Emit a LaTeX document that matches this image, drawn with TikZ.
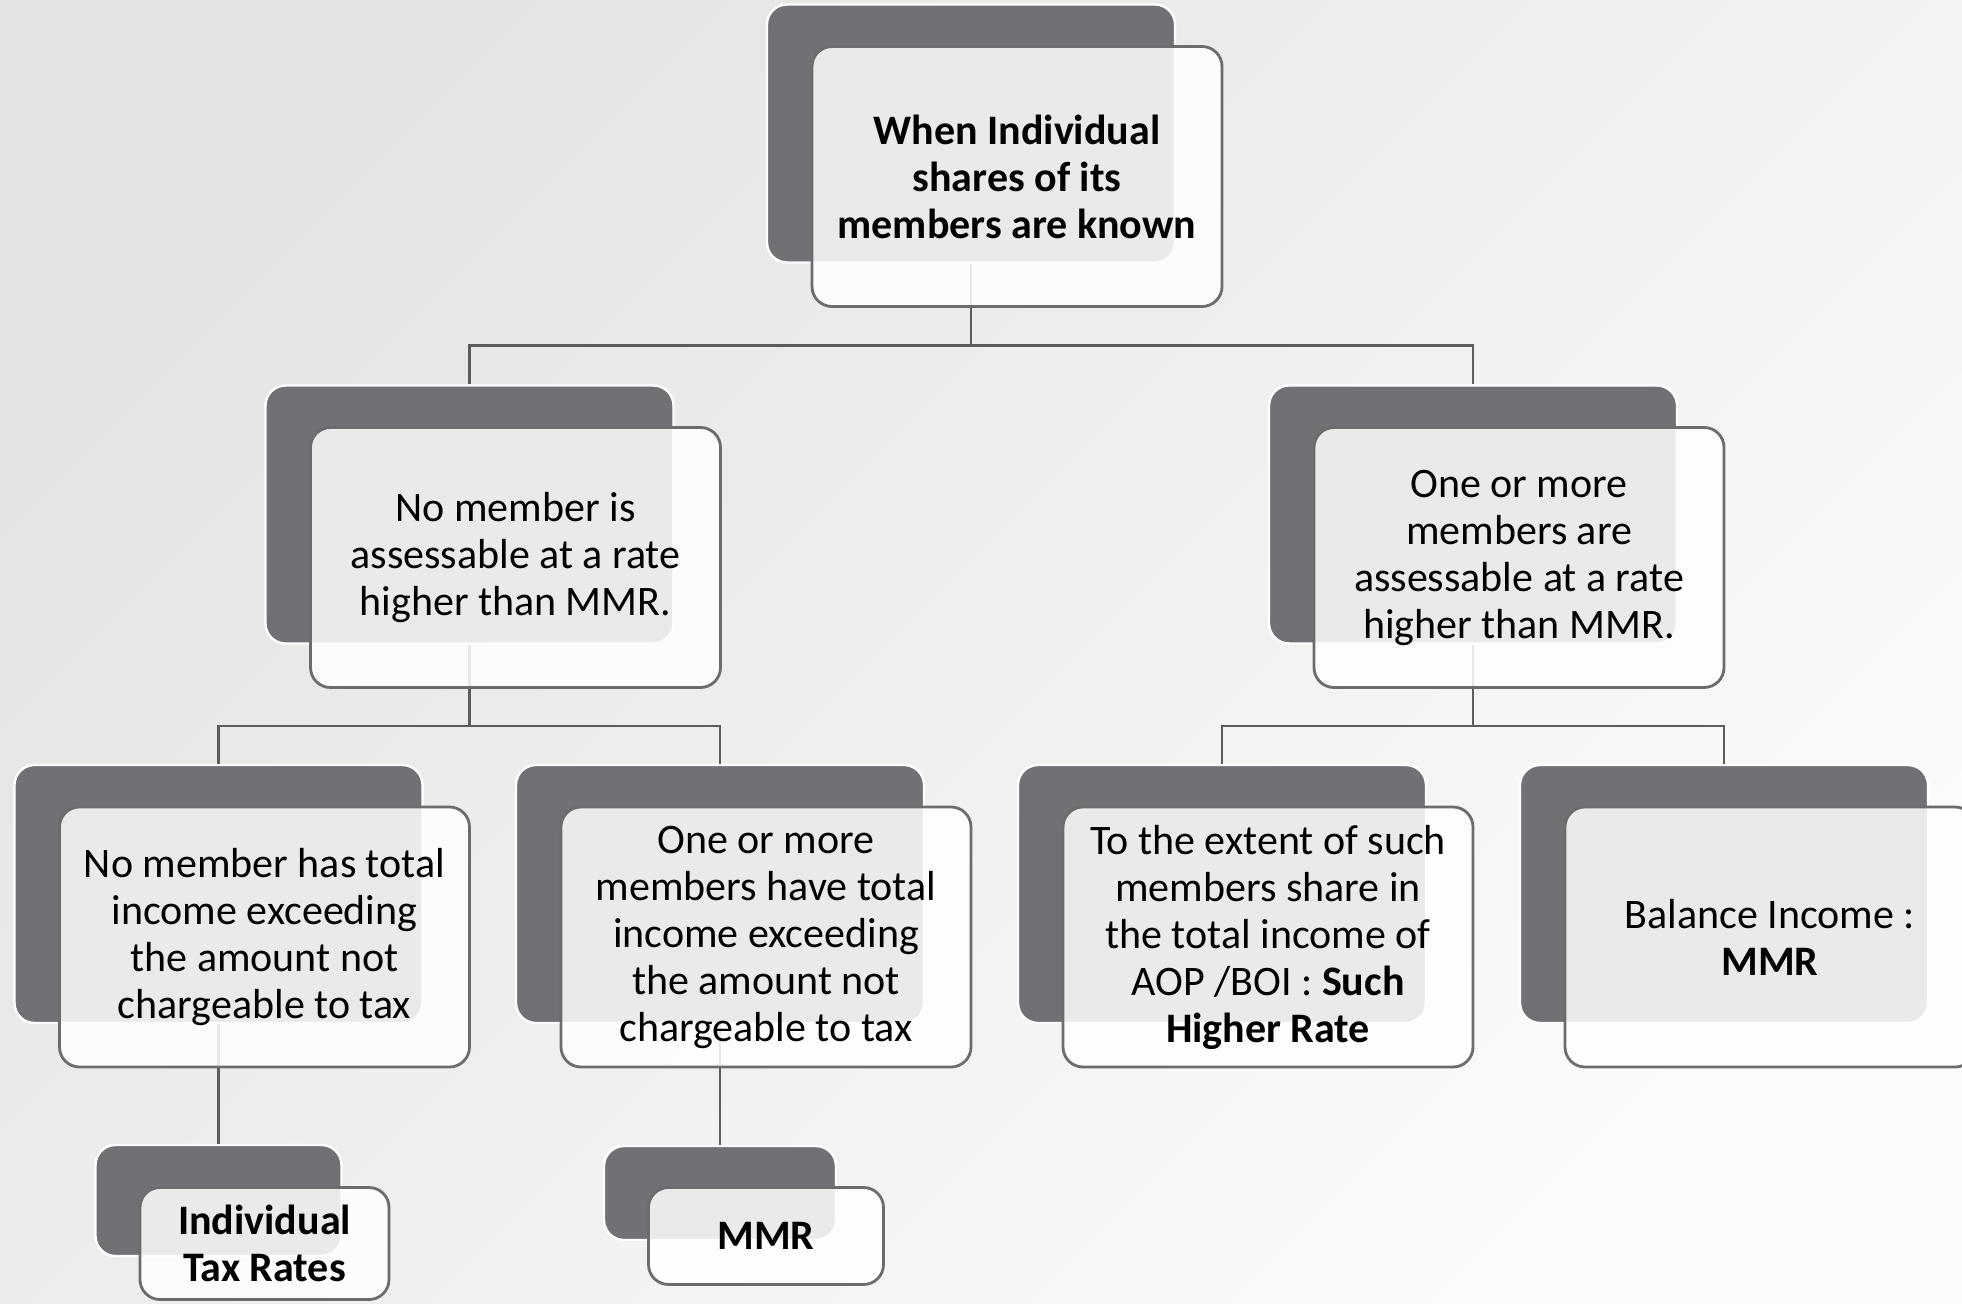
\documentclass[tikz,border=0pt]{standalone}
\usepackage{fontspec}
\setmainfont{Carlito}
\definecolor{backbox}{RGB}{113,112,117}
\definecolor{edgegray}{RGB}{108,108,108}
\definecolor{linkgray}{RGB}{92,92,92}
\definecolor{bgtop}{RGB}{228,228,228}
\definecolor{bgbot}{RGB}{251,251,251}
\begin{document}
\begin{tikzpicture}[x=0.5pt,y=-0.5pt,
  back/.style={draw=white,line width=1.2pt,fill=backbox,rounded corners=10pt,
    minimum width=204pt,minimum height=129pt,inner sep=0pt},
  front/.style={draw=edgegray,line width=1.4pt,fill=white,fill opacity=0.86,
    text opacity=1,rounded corners=10pt,minimum width=205pt,minimum height=130pt,
    inner sep=0pt,align=center,font=\fontsize{21}{23.5}\selectfont},
  link/.style={draw=linkgray,line width=1.2pt}]
\useasboundingbox (0,0) rectangle (1962,1304);
\clip (0,0) rectangle (1962,1304);
\shade[top color=bgtop,bottom color=bgbot,shading angle=45] (0,0) rectangle (1962,1304);
\def\dx{46}
\def\dy{43}
% back boxes
\node[back] (topb) at (971,133.5) {};
\node[back] (lb) at (469.5,514.5) {};
\node[back] (rb) at (1473,514.5) {};
\node[back] (ab) at (218.5,894) {};
\node[back] (bb) at (720,894) {};
\node[back] (cb) at (1222,894) {};
\node[back] (db) at (1724,894) {};
\node[back,minimum width=123pt,minimum height=55.5pt] (ib) at (218.5,1200.5) {};
\node[back,minimum width=116pt,minimum height=47pt] (mb) at (720,1193) {};
% connectors
\draw[link] (topb.south) -- ++(0,82) -| (lb.north);
\draw[link] (topb.south) -- ++(0,82) -| (rb.north);
\draw[link] (lb.south) -- ++(0,81) -| (ab.north);
\draw[link] (lb.south) -- ++(0,81) -| (bb.north);
\draw[link] (rb.south) -- ++(0,81) -| (cb.north);
\draw[link] (rb.south) -- ++(0,81) -| (db.north);
\draw[link] (ab.south) -- (ib.north);
\draw[link] (bb.south) -- (mb.north);
% front boxes
\node[front] (top) at ([shift={(\dx,\dy)}]topb) {\textbf{When Individual}\\\textbf{shares of its}\\\textbf{members are known}};
\node[front] (l) at ([shift={(\dx,\dy)}]lb) {No member is\\assessable at a rate\\higher than MMR.};
\node[front] (r) at ([shift={(\dx,\dy)}]rb) {One or more\\members are\\assessable at a rate\\higher than MMR.};
\node[front] (a) at ([shift={(\dx,\dy)}]ab) {No member has total\\income exceeding\\the amount not\\chargeable to tax};
\node[front] (b) at ([shift={(\dx,\dy)}]bb) {One or more\\members have total\\income exceeding\\the amount not\\chargeable to tax};
\node[front] (c) at ([shift={(\dx,\dy)}]cb) {To the extent of such\\members share in\\the total income of\\AOP /BOI : \textbf{Such}\\\textbf{Higher Rate}};
\node[front] (d) at ([shift={(\dx,\dy)}]db) {Balance Income :\\\textbf{MMR}};
\node[front,minimum width=124.5pt,minimum height=56pt] (i) at ([shift={(\dx,\dy)}]ib) {\textbf{Individual}\\\textbf{Tax Rates}};
\node[front,minimum width=117.5pt,minimum height=48.5pt] (m) at ([shift={(\dx,\dy)}]mb) {\textbf{MMR}};
\end{tikzpicture}
\end{document}
